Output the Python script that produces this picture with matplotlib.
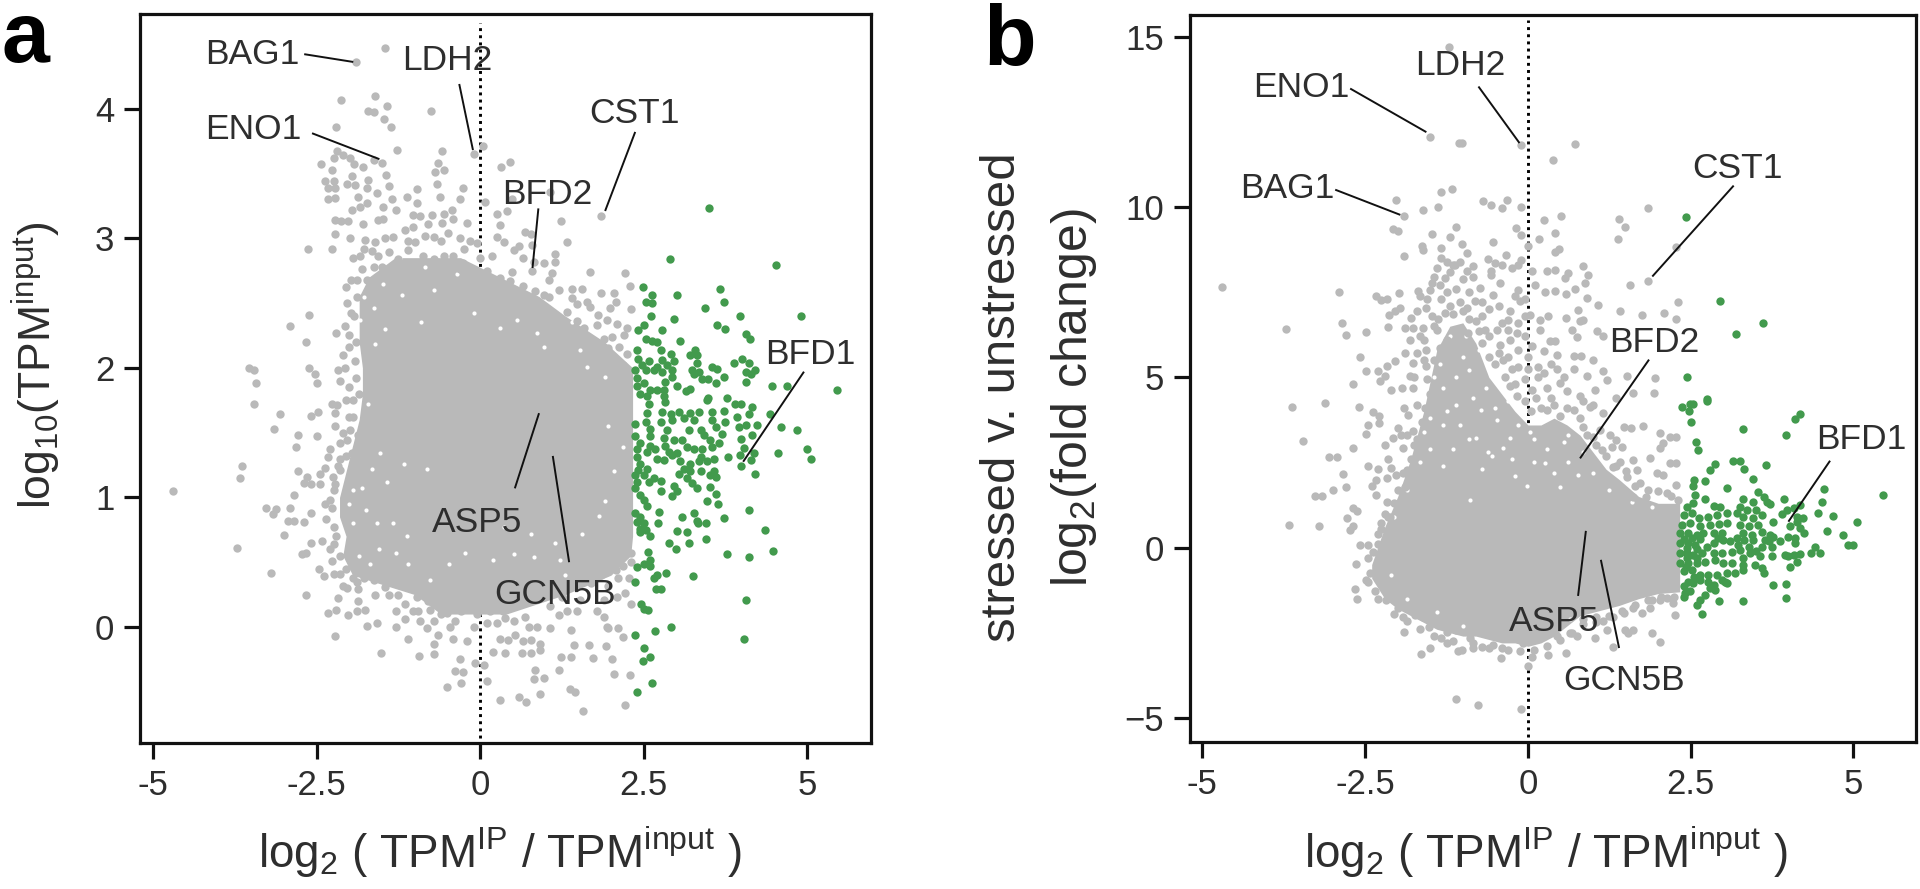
import matplotlib
matplotlib.use("Agg")
import matplotlib.pyplot as plt

plt.rcParams['font.family'] = ['Liberation Sans', 'DejaVu Sans']
plt.rcParams['mathtext.fontset'] = 'custom'
plt.rcParams['mathtext.rm'] = 'Liberation Sans'
plt.rcParams['mathtext.it'] = 'Liberation Sans'
plt.rcParams['mathtext.default'] = 'regular'

GRAY = '#B9B9B9'
GREEN = '#429A4D'
INK = '#2e2e2e'

# ---------- panel a: dense core outline (log10 TPM level, left and right edge) ----------
core_a_y = [0.1, 0.25, 0.4, 0.55, 0.7, 0.85, 1.0, 1.2, 1.4, 1.6, 1.8, 2.0, 2.2, 2.4, 2.55, 2.7, 2.85]
core_a_left = [-0.6, -1.0, -1.95, -2.1, -2.05, -2.15, -2.15, -2.05, -1.95, -1.85, -1.8, -1.8, -1.85, -1.85, -1.85, -1.7, -1.3]
core_a_right = [0.4, 1.3, 2.0, 2.3, 2.33, 2.33, 2.33, 2.33, 2.33, 2.33, 2.33, 2.33, 1.9, 1.3, 0.9, 0.3, -0.3]

# white specks left open inside the cloud of panel a
holes_a = [
 (-1.20,2.56),(-1.48,2.65),(-0.71,2.60),(-1.22,2.85),(-1.63,2.46),(-1.84,2.37),(-0.90,2.35),(-1.45,2.30),
 (-1.66,1.22),(-1.43,1.12),(-1.17,1.26),(-1.28,0.57),(-1.10,0.49),(-1.68,0.49),(-1.58,0.80),(-1.80,1.07),
 (-1.94,1.06),(-1.53,1.34),(-0.48,0.49),(-0.23,0.57),(-0.82,1.22),(-0.77,0.36),(-1.33,0.80),(-1.12,0.70),
 (-1.94,0.80),(1.81,0.86),(0.77,0.72),(1.15,0.65),(0.36,0.77),(1.56,0.72),(2.19,1.39),(1.91,0.97),(0.20,0.52),
 (0.51,0.56),(0.82,0.54),(1.22,0.52),(1.63,2.01),(0.97,2.16),(0.31,2.31),(1.91,1.93),(1.53,2.14),(0.87,2.27),
 (0.56,2.37),(-0.35,2.72),(-0.85,2.78),(-1.60,2.18),(-1.72,1.72),(-1.78,2.55),(-0.10,2.42),(-1.55,0.60),
 (-1.85,0.55),(-2.00,0.95),(-1.75,0.90),(1.30,0.40),(0.55,0.35),(2.05,1.20),(1.95,1.55),(1.40,2.35),
]

gray_a = [
 (-1.46,4.47),(-1.90,4.36),(-2.12,4.07),(-1.60,4.10),(-1.42,4.02),(-1.71,3.98),(-1.63,3.97),(-0.75,3.98),
 (-1.47,3.92),(-1.36,3.86),(-2.21,3.86),(-1.27,3.68),(-0.58,3.67),(-0.10,3.65),(-2.19,3.67),(-2.09,3.64),
 (-1.99,3.62),(-1.93,3.57),(-1.79,3.55),(-1.63,3.60),(-1.50,3.58),(-2.44,3.57),(-2.27,3.53),(-2.23,3.62),
 (-0.64,3.58),(-0.55,3.53),(-0.69,3.51),(-1.44,3.49),(-1.96,3.48),(-1.71,3.45),(-1.40,3.40),
 (-2.37,3.44),(-2.24,3.44),(-2.32,3.39),(-2.22,3.39),(-2.32,3.30),(-2.22,3.31),
 (-2.04,3.42),(-1.91,3.41),(-1.86,3.32),(-1.73,3.39),(-0.66,3.42),(-0.61,3.32),(-0.26,3.39),(-0.31,3.30),
 (-0.97,3.38),(-1.12,3.32),(-0.97,3.27),(-1.35,3.30),(-1.58,3.35),(-1.73,3.27),(-1.84,3.24),(-1.96,3.22),
 (-1.48,3.24),(-1.28,3.22),(-1.48,3.15),(-1.56,3.14),(-2.22,3.14),(-2.12,3.13),(-2.02,3.13),(-1.79,3.11),
 (-2.22,3.03),(-1.99,3.00),(-2.27,2.92),(-2.63,2.92),
 (-1.76,2.99),(-1.61,2.97),(-1.46,3.00),(-1.33,3.01),(-1.15,3.06),(-1.02,3.09),(-0.92,3.17),(-1.02,3.18),
 (-0.74,3.18),(-0.56,3.19),(-0.43,3.22),(-0.41,3.15),(-0.59,3.12),(-0.79,3.11),(-0.20,3.12),(-0.71,3.01),
 (-0.49,3.04),(-0.31,3.00),(-0.15,2.98),(-0.05,2.96),
 (-1.84,2.86),(-1.81,2.76),(-1.89,2.68),(-1.73,2.68),(-1.63,2.78),(-1.56,2.86),(-1.40,2.89),(-1.25,2.84),
 (-1.10,2.91),(-1.00,2.97),(-0.87,2.86),(-0.71,2.84),(-0.56,2.86),(-0.41,2.86),(-0.26,2.81),(-0.13,2.76),
 (-0.31,2.76),(-0.51,2.76),(-0.97,2.76),(-1.15,2.78),(-1.35,2.76),(-0.05,2.63),(-1.89,2.55),
 (-2.03,2.50),(-1.93,2.40),(-2.20,2.27),(-2.06,2.32),(-2.00,2.16),(-1.90,2.20),(-1.92,2.05),
 (-2.18,1.98),(-2.06,2.00),(-2.15,1.90),(-2.00,1.85),(-1.90,1.92),(-1.85,1.80),(-1.95,1.75),
 (-3.53,2.00),(-3.45,1.98),(-3.43,1.88),(-2.90,2.32),(-2.62,2.41),(-2.66,2.20),(-2.62,2.00),(-2.53,1.95),(-2.50,1.88),
 (-2.27,1.72),
 (-4.70,1.05),(-3.64,1.24),(-3.67,1.15),(-3.71,0.61),(-3.20,0.42),(-3.28,0.92),(-3.12,0.91),(-3.16,0.87),
 (-2.91,0.92),(-2.59,0.88),(-2.93,0.82),(-2.85,0.82),(-2.70,0.81),(-3.00,0.71),(-2.59,0.65),(-2.42,0.66),
 (-2.24,0.64),(-2.73,0.56),(-2.66,0.57),(-2.47,0.45),(-2.39,0.39),(-2.24,0.41),(-2.66,0.25),(-2.84,1.02),
 (-3.45,1.72),(-3.06,1.64),(-3.15,1.53),(-2.58,1.63),(-2.48,1.66),(-2.78,1.48),(-2.81,1.39),(-2.49,1.47),
 (-2.79,1.20),(-2.65,1.16),(-2.70,1.11),(-2.58,1.10),(-2.45,1.10),(-2.37,1.23),(-2.45,1.18),(-2.18,1.24),
 (-2.22,1.55),(-2.22,1.65),(-2.19,1.71),(-2.30,1.37),(-2.32,1.31),(-2.14,1.42),(-2.04,1.44),(-1.99,1.52),
 (-1.86,1.48),(-1.96,1.34),(-2.14,1.21),(-2.24,1.06),(-2.37,0.95),(-2.27,0.92),
 (-2.35,0.83),(-2.24,0.77),(-2.14,0.41),(-2.27,0.51),(-2.04,0.30),(-1.89,0.35),(-1.63,0.36),(-1.86,0.29),
 (-1.86,0.20),(-2.18,0.22),(-1.61,0.25),(-1.45,0.31),(-2.09,0.32),
 (-2.33,0.11),(-2.20,0.13),(-2.02,0.09),(-1.89,0.12),(-1.76,0.13),(-2.22,-0.07),(-1.73,0.01),(-1.57,0.03),
 (-1.29,0.12),(-1.03,0.12),(-1.15,0.06),(-1.28,0.00),(-1.10,-0.09),(-0.92,0.05),(-0.82,-0.01),(-0.64,-0.06),
 (-1.52,-0.20),(-0.93,-0.22),(-0.70,-0.21),(-0.70,-0.13),(-0.79,0.20),(-0.56,0.23),(-0.46,0.18),(-0.77,0.13),
 (-0.51,0.11),(-0.46,0.00),(-0.38,0.05),(-0.41,-0.09),(-0.20,-0.11),(-0.31,-0.25),(-0.08,-0.28),(-0.38,-0.34),
 (-0.26,-0.35),(-0.51,-0.46),(-0.29,-0.43),(-0.10,0.00),(-0.05,0.10),(-0.97,0.23),(-1.02,0.31),(-1.22,0.36),
 (-0.20,0.21),(-0.20,0.16),
 (0.31,-0.56),(0.59,-0.54),(0.70,-0.58),(0.92,-0.52),(1.38,-0.48),(1.45,-0.50),(1.57,-0.65),(2.21,-0.60),
 (0.84,-0.33),(0.83,-0.40),(0.98,-0.39),(1.21,-0.33),(2.04,-0.36),(2.29,-0.37),(1.24,-0.23),(1.39,-0.23),
 (1.72,-0.24),(2.02,-0.25),(0.06,-0.29),(0.10,-0.42),(0.20,-0.19),(0.38,-0.20),(0.64,-0.20),(0.77,-0.20),
 (0.92,-0.18),(1.43,-0.14),(1.67,-0.14),(1.93,-0.15),(2.18,-0.08),(2.10,-0.01),(1.96,-0.01),(1.06,-0.01),
 (1.39,-0.02),(0.31,-0.09),(0.43,-0.10),(0.54,-0.06),(0.66,-0.11),(0.77,-0.10),(0.92,-0.13),(0.74,0.00),
 (0.87,0.00),(0.69,0.08),(0.10,0.03),(0.26,0.03),(0.38,0.07),(0.51,0.05),(1.20,0.09),(1.33,0.12),(1.48,0.12),
 (1.79,0.12),(1.89,0.08),(1.94,0.00),(2.30,0.18),(2.22,0.26),(0.92,0.23),(1.07,0.16),(1.25,0.23),(1.53,0.21),
 (1.89,0.21),(2.09,0.23),(2.07,0.44),(2.19,0.47),(2.30,0.57),(2.17,0.54),(2.04,0.52),(1.79,0.44),(1.58,0.52),
 (1.40,0.43),(0.30,0.20),(0.50,0.25),(0.60,0.35),(0.15,0.30),(1.70,0.34),(1.95,0.32),
 (0.45,3.59),(0.32,3.55),(0.05,3.71),(1.06,3.36),(0.48,3.30),(0.08,3.28),(0.26,3.19),(0.41,3.21),(1.23,3.13),
 (1.85,3.17),(0.30,3.10),(0.68,3.05),(1.33,2.97),(0.26,3.01),(0.36,2.97),(0.51,2.91),(0.60,2.94),(0.78,3.03),
 (0.79,2.95),(1.15,2.88),(1.15,2.82),(0.65,2.85),(0.82,2.82),(0.97,2.81),(0.79,2.75),(0.18,2.86),(0.48,2.74),
 (1.10,2.73),(1.05,2.68),(1.68,2.74),(2.21,2.73),(0.31,2.69),(0.46,2.67),(0.66,2.63),(0.84,2.59),(0.97,2.56),
 (1.05,2.55),(1.21,2.60),(1.40,2.61),(1.56,2.61),(2.29,2.63),(2.04,2.58),(1.84,2.58),(1.40,2.54),(1.63,2.51),
 (1.48,2.49),(1.68,2.47),(1.80,2.41),(2.07,2.51),(1.99,2.46),(2.30,2.45),(1.32,2.43),(1.02,2.45),
 (1.17,2.37),(1.48,2.36),(1.94,2.37),(2.09,2.34),(2.24,2.31),(1.79,2.33),(1.58,2.31),
 (2.02,2.24),(2.12,2.16),(2.19,2.02),(2.24,2.11),
 (0.10,2.75),(0.25,2.60),(0.40,2.50),
 # ragged rim of the cloud
 (-2.20,0.70),(-2.30,0.60),(-2.15,0.55),(-2.05,0.45),(-1.95,0.38),(-1.78,0.38),(-1.55,0.40),(-1.40,0.25),
 (-1.25,0.25),(-1.15,0.18),(-0.95,0.12),(-0.70,0.05),(-0.60,0.10),(-0.30,0.12),(-2.30,0.98),(-2.22,1.10),
 (-2.25,1.16),(-2.15,1.30),(-2.05,1.32),(-2.10,1.50),(-2.00,1.62),(-1.95,1.62),(-2.05,1.75),(-2.10,2.10),
 (-2.00,2.25),(-1.98,2.42),(-2.05,2.62),(-1.98,2.68),(-1.95,2.85),(-1.78,2.92),(-1.65,2.90),(-1.50,2.78),
 (-1.10,2.98),(-0.85,3.02),(-0.60,2.98),(-0.25,2.92),(0.00,2.85),(0.05,2.72),(0.18,2.68),(0.32,2.55),
 (0.55,2.45),(0.70,2.42),(0.85,2.40),(1.05,2.30),(1.25,2.25),(1.45,2.20),(1.60,2.10),(1.75,2.05),(1.90,2.22),
 (2.05,2.05),(2.20,2.25),(1.95,2.15),(0.60,0.20),(0.85,0.30),(1.10,0.35),(1.35,0.32),(1.60,0.38),(1.85,0.40),
 (2.10,0.38),(2.28,0.38),(2.30,0.50),(0.35,0.12),(0.15,0.12),(-0.10,0.18),(-0.35,0.18),
]

green_a = [
 (3.50,3.23),(2.90,2.84),(4.52,2.79),(2.49,2.62),(3.66,2.61),(2.63,2.56),(3.01,2.56),(2.54,2.51),(2.63,2.50),
 (3.72,2.51),(3.44,2.46),(3.97,2.40),(4.91,2.40),(2.61,2.40),(2.96,2.38),(2.50,2.33),(2.41,2.29),(2.78,2.29),
 (3.62,2.33),(3.74,2.30),(4.06,2.26),(4.12,2.22),(3.06,2.21),(2.54,2.22),(2.62,2.21),(2.70,2.20),(2.39,2.14),
 (2.76,2.14),(3.29,2.14),(3.21,2.10),(3.32,2.10),(2.42,2.07),(2.91,2.11),(2.96,2.05),(2.78,2.06),(2.58,2.05),
 (2.47,2.02),(2.70,2.01),(2.86,2.02),(2.36,1.98),(2.53,1.98),(2.65,1.98),(2.78,1.97),(2.93,1.98),(3.32,2.04),
 (3.24,1.98),(3.34,1.97),(3.55,2.01),(3.62,1.99),(3.88,2.04),(4.01,2.07),(4.11,2.04),(4.06,1.97),(4.20,1.98),
 (4.14,1.95),(4.06,1.89),(4.46,1.86),(4.69,1.86),(5.46,1.83),(3.27,1.95),(3.39,1.91),(3.49,1.91),(3.60,1.88),
 (3.72,1.93),(2.40,1.92),(2.50,1.88),(2.40,1.86),(2.83,1.89),(2.93,1.93),(3.01,1.86),(2.81,1.83),(2.70,1.83),
 (2.60,1.83),(3.21,1.84),(3.14,1.82),(2.45,1.80),(2.55,1.78),(2.81,1.78),(3.49,1.77),(3.78,1.77),
 (2.58,1.72),(2.83,1.74),(3.47,1.75),(3.90,1.72),(3.98,1.72),(4.16,1.70),(4.43,1.64),(2.55,1.65),(2.78,1.66),
 (2.91,1.64),(3.04,1.66),(3.21,1.65),(3.34,1.66),(3.55,1.66),(3.73,1.67),(3.93,1.62),(4.11,1.64),(2.37,1.57),
 (2.53,1.58),(2.76,1.58),(2.93,1.60),(3.11,1.61),(3.27,1.60),(3.55,1.60),(3.75,1.58),(4.06,1.56),(4.23,1.56),
 (3.95,1.54),(4.60,1.54),(4.85,1.52),(2.60,1.53),(2.86,1.52),(3.19,1.52),(3.37,1.52),(3.60,1.54),(3.70,1.49),
 (3.98,1.45),(4.16,1.48),(2.37,1.47),(2.60,1.47),(2.81,1.46),(2.96,1.44),(3.09,1.44),(3.42,1.48),(3.52,1.44),
 (3.65,1.42),(2.45,1.42),(2.60,1.40),(2.83,1.40),(3.16,1.39),(3.27,1.37),(3.39,1.37),(3.55,1.39),(4.03,1.38),
 (2.40,1.37),(2.55,1.35),(2.68,1.37),(2.88,1.35),(3.01,1.34),(2.93,1.33),(3.37,1.31),(3.57,1.30),(3.79,1.31),
 (3.97,1.33),(4.19,1.34),(4.55,1.34),(5.00,1.37),(5.06,1.30),(4.14,1.29),(3.99,1.24),(4.20,1.18),(2.40,1.31),
 (2.70,1.30),(2.81,1.29),(3.06,1.28),(3.21,1.26),(3.34,1.28),(3.47,1.28),(2.45,1.26),(2.55,1.22),(2.42,1.21),
 (2.37,1.17),(2.50,1.17),(2.65,1.15),(2.76,1.13),(3.11,1.22),(3.21,1.20),(3.37,1.20),(3.57,1.20),(3.52,1.17),
 (3.60,1.16),(2.40,1.12),(2.58,1.12),(3.04,1.18),(3.16,1.15),(3.24,1.11),(3.32,1.07),(3.51,1.08),(3.61,1.03),
 (2.97,1.09),(3.01,1.05),(2.93,1.01),(2.77,1.05),(2.37,1.07),(2.45,1.02),(2.50,0.98),(2.55,0.93),(3.46,0.97),
 (3.64,0.95),(4.11,0.90),(3.32,0.82),(3.27,0.88),(3.73,0.84),(3.09,0.85),(2.73,0.89),(2.72,0.80),(3.33,0.80),
 (3.45,0.80),(4.36,0.75),(3.01,0.74),(3.16,0.73),(3.45,0.68),(2.88,0.65),(3.20,0.65),(2.99,0.60),(4.48,0.59),
 (3.77,0.56),(4.11,0.54),(2.56,0.58),(2.37,0.88),(2.45,0.85),(2.40,0.81),(2.50,0.80),(2.45,0.76),(2.53,0.75),
 (2.44,0.73),(2.59,0.70),(2.60,0.52),(2.60,0.47),(2.50,0.49),(2.40,0.46),(2.36,0.35),(2.84,0.42),(2.70,0.40),
 (2.65,0.38),(3.26,0.39),(2.77,0.29),(2.69,0.29),(4.07,0.21),(2.46,0.18),(2.50,0.14),(2.56,0.13),(4.04,-0.09),
 (2.91,0.00),(2.68,-0.03),(2.37,-0.06),(2.50,-0.16),(2.59,-0.23),(2.49,-0.26),(2.62,-0.43),(2.39,-0.50),
]

labels_a = ['BAG1', 'LDH2', 'ENO1', 'CST1', 'BFD2', 'BFD1', 'ASP5', 'GCN5B']
label_x_a = [-4.21, -1.19, -4.21, 1.67, 0.33, 4.36, -0.73, 0.22]
label_y_a = [4.42, 4.37, 3.84, 3.96, 3.34, 2.10, 0.81, 0.25]
leader_a = [((-2.69,4.42),(-1.94,4.36)), ((-0.32,4.19),(-0.11,3.68)), ((-2.57,3.81),(-1.54,3.61)),
            ((2.37,3.82),(1.91,3.21)), ((0.89,3.23),(0.80,2.77)), ((4.95,1.97),(4.02,1.275)),
            ((0.90,1.65),(0.53,1.07)), ((1.11,1.32),(1.36,0.50))]

# ---------- panel b ----------
core_b_x = [-2.4, -2.2, -2.0, -1.8, -1.6, -1.4, -1.2, -1.0, -0.8, -0.6, -0.4, -0.2, 0.0, 0.2, 0.4, 0.6, 0.8, 1.0, 1.2, 1.4, 1.7, 2.0, 2.33]
core_b_low = [-0.9, -1.5, -1.8, -2.0, -2.2, -2.4, -2.5, -2.6, -2.6, -2.7, -2.8, -2.8, -2.9, -2.8, -2.6, -2.3, -2.0, -1.9, -1.8, -1.7, -1.5, -1.35, -1.3]
core_b_high = [-0.5, 0.6, 1.5, 2.6, 4.0, 5.8, 6.5, 6.6, 6.0, 5.0, 4.5, 4.0, 3.6, 3.6, 3.8, 3.6, 3.3, 2.8, 2.3, 2.0, 1.5, 1.3, 1.3]

holes_b = [
 (-0.28,3.21),(-0.38,2.92),(0.26,2.47),(-0.20,2.10),(0.49,1.79),(0.77,2.13),(-0.89,1.40),(-0.79,3.21),
 (-0.48,3.75),(0.03,3.40),(0.62,3.30),(-0.61,2.82),(-1.50,2.90),(-1.30,3.60),(-1.10,4.20),(-0.90,5.20),
 (-1.30,4.70),(-1.45,5.00),(-1.00,5.60),(-1.20,6.20),(-0.85,4.40),(-0.65,4.70),(-0.50,4.10),(-0.15,3.60),
 (0.10,3.20),(0.30,2.90),(0.55,3.10),(0.40,2.20),(0.10,2.50),(-0.55,2.70),(-0.90,3.20),(-1.15,2.90),
 (-1.60,3.40),(-1.65,2.50),(-1.85,1.70),(-2.05,0.90),(1.00,2.20),(0.85,2.80),(1.25,1.70),(1.60,1.35),
 (-1.40,-1.90),(-1.10,5.00),(-1.35,5.40),(-0.75,5.80),(-0.95,6.20),(-1.05,3.60),(-0.25,2.60),(-1.30,2.40),
 (-0.72,4.05),(-0.30,4.30),(-1.50,3.80),(-1.25,4.00),(-0.70,2.30),(-0.02,1.80),(0.62,2.50),(-1.85,-1.50),
 (-2.10,-0.80),(1.90,1.20),(0.65,-2.10),(-1.00,-2.30),
]

gray_b = [
 (-4.70,7.64),(-1.51,12.07),(-1.06,11.88),(-1.91,9.75),(-2.02,10.22),(-1.34,10.44),(-1.16,10.53),(-1.61,9.92),
 (-1.38,10.00),(-2.07,9.35),(-1.99,9.30),(-1.47,9.22),(-1.19,9.11),(-1.10,9.40),(-1.63,8.85),(-1.61,8.73),
 (-1.34,8.80),(-1.91,8.57),(-1.33,8.50),(-1.25,8.40),(-1.12,8.31),(-1.40,8.21),(-1.45,7.96),(-1.48,7.77),
 (-1.28,7.92),(-2.90,7.50),(-1.98,7.49),(-1.69,7.52),(-1.65,7.40),(-1.51,7.55),(-2.33,7.38),(-2.25,7.28),
 (-2.16,7.30),(-1.96,7.05),(-2.04,6.94),(-2.13,6.84),(-1.71,6.94),(-1.57,7.04),(-3.71,6.43),(-2.85,6.60),
 (-2.79,6.25),(-2.48,6.33),(-2.15,6.47),(-1.79,6.74),(-1.89,6.45),(-1.76,6.45),(-1.61,6.45),(-1.48,6.79),
 (-1.81,6.10),(-1.71,5.71),(-2.58,5.60),(-2.68,4.81),(-2.49,5.18),(-2.30,5.18),(-2.17,5.32),(-2.04,5.47),
 (-2.20,5.03),(-2.27,4.88),(-2.10,4.64),(-1.94,4.69),(-1.76,4.69),(-1.89,5.71),(-1.76,5.42),(-1.56,5.81),
 (-1.81,5.03),(-1.56,5.32),(-1.21,14.70),
 (-3.63,4.12),(-3.11,4.24),(-2.60,4.14),(-3.45,3.14),(-3.06,2.67),(-2.94,2.67),(-2.69,2.92),(-2.84,2.16),
 (-2.80,1.79),(-3.00,1.69),(-3.27,1.52),(-3.17,1.52),(-3.67,0.65),(-3.21,0.64),(-2.68,1.15),(-2.62,1.08),
 (-2.78,0.86),(-2.68,0.64),(-2.74,0.52),(-2.38,3.99),(-2.28,3.85),(-2.29,3.65),(-2.46,3.60),(-2.49,3.34),
 (-2.07,3.21),(-1.92,2.92),(-1.86,3.31),(-1.76,3.41),(-1.84,3.89),(-2.33,1.99),(-2.17,2.04),(-2.10,2.33),
 (-2.02,2.13),(-1.86,2.28),(-2.33,1.55),(-2.17,1.35),(-1.99,1.20),(-1.89,1.79),(-2.25,0.71),(-2.12,0.91),
 (-2.04,0.62),(-2.58,0.08),(-2.46,0.08),(-2.38,-0.12),(-2.64,-0.48),(-2.20,0.23),(-2.25,-0.46),(-2.43,-0.75),
 (-2.48,-0.95),(-2.35,-1.29),(-2.66,-1.21),(-2.63,-1.52),(-2.18,-1.54),(-1.99,-1.78),(-1.92,-2.03),(-1.74,-1.98),
 (-1.61,-2.03),(-1.52,-2.32),(-1.41,-2.12),(-1.91,-2.49),(-1.25,-2.47),(-1.33,-2.66),(-1.25,-2.81),(-1.10,-2.42),
 (-1.64,-3.13),(-1.50,-2.95),(-1.07,-3.03),(-1.10,-4.44),(-0.76,-4.62),(-0.10,-4.75),
 (-0.10,11.81),(-1.02,11.88),(0.72,11.84),(0.39,11.39),(-0.69,10.19),(-0.56,10.07),(-0.40,9.97),(-0.32,10.22),
 (-0.10,9.99),(0.24,9.63),(0.51,9.75),(1.40,9.66),(1.49,9.40),(1.38,9.06),(1.84,9.96),(-0.19,9.38),(-0.10,9.19),
 (0.17,9.07),(0.41,9.24),(0.00,8.85),(-0.53,8.96),(-1.02,8.91),(-0.33,8.60),(-0.94,8.65),(0.41,8.68),(0.48,8.78),
 (2.28,8.82),(-0.61,8.47),(-0.51,8.36),(-0.40,8.29),(-0.24,8.21),(-0.10,8.45),(-0.15,8.31),(-0.84,8.26),
 (-0.94,8.11),(-0.84,7.96),(-0.56,8.11),(-0.56,8.01),(0.29,8.11),(0.41,8.16),(0.62,8.06),(0.57,7.92),(0.85,8.26),
 (0.93,8.01),(0.88,7.77),(0.06,8.11),(0.11,7.72),(1.85,7.82),(1.57,7.70),(0.26,7.51),(0.41,7.54),(0.59,7.46),
 (0.72,7.59),(0.90,7.33),(1.07,7.11),(2.31,7.22),(1.41,6.95),(1.75,6.83),(2.09,6.89),(2.28,6.72),(0.77,6.99),
 (0.59,6.74),(0.80,6.64),(0.67,6.40),(0.75,6.18),(1.06,6.35),(1.16,6.20),(0.85,6.69),(0.31,6.79),(0.18,6.69),
 (0.03,6.84),(0.18,6.40),(0.34,6.06),(0.41,6.06),(-0.74,7.62),(-0.43,7.77),(-0.15,7.57),(-0.12,7.23),(-0.53,7.43),
 (-0.81,7.23),(-0.94,7.04),(-0.28,6.94),(-0.48,6.40),(-0.66,6.40),(-0.79,6.64),(-0.30,6.69),(-0.17,6.30),
 (-0.05,6.79),(-0.92,6.30),(-0.43,5.96),(-0.28,6.11),(-0.38,5.52),
 (-0.25,5.23),(-0.15,5.81),(0.06,5.91),(0.24,5.76),(0.44,5.66),(0.70,5.62),(0.82,5.62),(1.00,5.52),(0.00,5.23),
 (0.24,5.12),(0.44,5.23),(0.70,5.23),(0.90,5.03),(1.16,5.18),(1.52,5.03),(1.95,4.98),(1.21,4.93),(1.03,4.64),
 (0.80,4.44),(0.49,4.83),(0.29,4.69),(0.06,4.64),(-0.28,4.74),(1.00,4.20),
 (-0.17,4.44),(0.13,4.39),(1.62,4.54),(1.36,4.39),(1.93,4.54),
 (-1.15,8.30),(-1.05,8.40),(-1.25,7.50),(-1.10,7.60),(-1.33,7.30),(-1.20,7.10),(-1.05,7.20),(-1.40,6.40),(-1.60,6.10),
 (0.29,4.04),(0.49,3.85),(0.70,4.04),(0.95,4.14),(0.85,3.55),(1.16,3.94),(1.11,3.45),(1.36,3.16),(1.00,3.26),
 (1.47,3.55),(1.59,3.50),(1.76,3.57),(2.03,3.36),(2.28,3.26),(2.18,3.24),(2.08,3.06),(2.03,2.92),(1.87,2.62),
 (1.62,2.57),(1.44,2.96),(1.29,2.96),(1.26,3.31),(1.13,2.87),(1.41,2.52),(1.67,2.28),(1.98,2.18),(2.18,2.47),
 (2.28,2.49),(1.72,1.89),(1.52,2.08),(1.31,2.38),(1.13,2.18),(2.13,1.59),(2.28,1.84),(1.82,1.49),(1.62,1.49),
 (2.08,2.13),
 (2.03,-1.53),(2.23,-1.63),(2.26,-1.98),(1.90,-1.53),(1.87,-1.78),(1.75,-1.93),(2.03,-2.76),(1.90,-2.50),
 (1.62,-2.42),(1.49,-2.42),(1.54,-2.52),(1.31,-2.91),(1.16,-2.17),(1.03,-2.66),(0.75,-2.61),(0.59,-3.10),
 (0.31,-3.15),(0.06,-3.20),(-0.42,-3.25),(-0.71,-2.92),(-0.53,-2.86),(-0.40,-2.95),(0.00,-3.49),(-0.12,-3.05),
 (-0.07,-2.81),(0.24,-2.61),(0.44,-2.61),(0.67,-2.52),(-0.89,-2.66),(-0.84,-2.95),(-1.02,-3.00),
 (1.62,-1.78),(1.47,-1.93),(1.21,-2.42),(2.13,-1.49),
 (0.85,-2.25),(1.05,-2.20),(1.30,-2.05),
 # ragged rim of the cloud
 (-2.45,-0.30),(-2.30,0.10),(-2.30,0.40),(-2.25,0.55),(-2.15,0.90),(-2.05,1.30),(-2.20,1.00),(-2.00,1.70),
 (-1.92,2.20),(-1.80,2.60),(-1.75,3.00),(-1.70,3.20),(-1.62,3.70),(-1.58,4.10),(-1.50,4.50),(-1.55,4.95),
 (-1.45,5.50),(-1.35,5.85),(-1.25,6.10),(-1.38,6.70),(-1.28,6.90),(-1.15,6.85),(-1.00,6.95),(-0.90,6.70),
 (-0.75,6.35),(-0.70,6.00),(-0.60,5.60),(-0.50,5.40),(-0.35,5.00),(-0.20,4.80),(-0.05,4.30),(0.05,4.00),
 (0.20,4.10),(0.40,4.20),(0.60,4.10),(0.80,3.80),(0.90,3.30),(1.05,3.00),(1.20,2.70),(1.35,2.40),(1.50,2.25),
 (1.65,1.80),(1.85,1.70),(2.00,1.65),(2.20,1.50),(2.30,1.40),(-2.45,-1.00),(-2.30,-1.50),(-2.05,-1.95),
 (-1.85,-2.15),(-1.65,-2.40),(-1.45,-2.60),(-1.15,-2.75),(-0.85,-2.80),(-0.60,-2.95),(-0.30,-3.00),(0.10,-3.00),
 (0.30,-2.90),(0.50,-2.70),(0.65,-2.50),(0.85,-2.10),(1.05,-2.05),(1.25,-2.00),(1.45,-1.85),(1.65,-1.70),
 (1.85,-1.55),(2.05,-1.45),(2.25,-1.45),
 (-0.90,7.50),(-0.70,7.20),(-0.60,7.00),(-0.45,7.10),(-0.20,7.40),(-0.05,7.30),(-0.70,6.80),(-0.40,6.60),
 (-0.15,6.60),(-0.60,6.20),(-0.30,6.40),(-0.05,6.20),(-0.45,5.70),(-0.30,5.60),(-0.15,5.30),(0.00,5.60),
 (0.15,5.30),(0.35,5.40),(0.55,5.00),(0.15,5.00),(-0.05,4.95),(0.35,4.40),(0.60,4.60),(0.85,4.30),
 (-1.00,7.90),(-1.20,8.10),(-1.35,7.70),(-1.55,7.30),(-1.45,6.50),(-1.65,6.20),(-1.60,5.50),(-1.75,5.00),
 (-1.70,4.20),(-1.90,4.10),(-2.00,3.50),(-1.95,3.30),(-2.20,3.00),(-2.15,2.60),(-2.30,2.30),(-2.40,1.80),(-2.45,2.40),
]

green_b = [
 (2.42,9.70),(2.95,7.25),(3.20,6.27),(3.61,6.59),(2.44,5.00),(2.75,4.37),(2.36,4.14),(2.49,4.22),(2.53,4.22),
 (2.48,4.00),(2.50,3.70),(2.75,4.29),(4.18,3.92),(4.10,3.77),(3.31,3.48),(3.97,3.32),(2.58,3.11),(2.61,2.87),
 (2.87,2.46),(2.79,2.28),(3.15,2.55),(3.26,2.55),(3.32,2.31),(3.66,2.43),(3.45,2.00),(2.55,1.98),(2.53,1.81),
 (2.72,1.95),(3.05,1.75),(4.54,1.73),(5.46,1.53),(4.52,1.34),(4.46,1.01),(4.68,0.94),(5.05,0.75),(4.60,0.50),
 (4.84,0.37),(4.91,0.08),(5.00,0.08),(3.54,1.64),(3.62,1.49),(3.67,1.35),(3.72,1.28),(3.93,1.42),(4.18,1.25),
 (4.08,1.15),(3.98,1.10),(3.90,0.99),(4.13,0.91),(4.22,0.86),(3.77,0.76),(4.02,0.62),(4.13,0.76),(4.18,0.57),
 (4.24,0.43),(4.00,0.32),(4.10,0.27),(3.87,0.18),(4.10,0.13),(4.41,0.03),(4.48,-0.17),(4.34,-0.17),(3.95,-0.21),
 (4.08,-0.21),(4.18,-0.19),(4.13,-0.43),(4.03,-0.56),(4.00,-0.26),(3.76,-1.10),(3.97,-1.08),(3.96,-1.49),
 (3.31,-1.57),(2.68,-1.95),(2.59,-1.68),(2.65,-1.53),(2.72,-1.39),(2.93,-1.57),(2.87,-1.24),(3.03,-1.00),
 (2.57,1.55),(2.72,1.44),(3.31,1.44),(3.46,1.35),(2.44,1.20),(2.54,1.30),(2.85,1.22),(2.95,1.20),(3.26,1.20),
 (3.36,1.10),(3.51,1.10),(3.59,0.96),(2.39,0.96),(2.52,1.01),(2.62,0.86),(2.77,0.91),(2.90,0.96),(3.05,1.01),
 (3.21,1.01),(3.31,0.91),(3.46,0.86),(2.36,0.67),(2.49,0.71),(2.64,0.64),(2.80,0.67),(2.93,0.70),(3.05,0.71),
 (3.26,0.67),(3.39,0.62),(3.54,0.67),(3.59,0.47),(3.72,0.37),(2.34,0.42),(2.46,0.42),(2.59,0.37),(2.69,0.42),
 (2.85,0.42),(2.98,0.42),(3.31,0.42),(3.44,0.37),(3.21,0.27),(3.10,0.18),(3.46,0.23),(3.77,0.32),(3.64,0.23),
 (2.34,0.13),(2.46,0.13),(2.57,0.08),(2.85,0.13),(3.00,0.23),(3.23,0.08),(3.39,0.03),(3.59,0.03),(3.75,0.03),
 (3.70,0.18),(2.34,-0.17),(2.44,-0.17),(2.54,-0.21),(2.67,-0.17),(2.85,-0.15),(2.98,-0.17),(3.13,-0.12),
 (3.26,-0.07),(3.41,-0.17),(3.57,-0.26),(3.75,-0.26),(2.34,-0.46),(2.46,-0.46),(2.59,-0.46),(2.72,-0.41),
 (2.87,-0.36),(3.00,-0.46),(3.13,-0.46),(3.31,-0.51),(3.49,-0.51),(3.59,-0.61),(2.39,-0.70),(2.52,-0.66),
 (2.64,-0.80),(2.77,-0.80),(2.90,-0.80),(3.05,-0.75),(3.18,-0.75),(3.31,-0.66),(3.62,-0.75),(2.39,-1.14),
 (2.46,-1.00),(2.54,-1.05),(2.64,-0.95),(2.77,-1.00),(2.85,-1.09),(2.98,-0.95),(3.05,-1.05),(2.41,-1.34),
 (2.49,-1.29),(2.39,-1.44),(2.80,-1.20),
 (2.40,0.25),(2.52,0.28),(2.65,0.25),(2.45,0.00),(2.60,-0.05),(2.75,0.02),(2.45,-0.32),(2.60,-0.32),(2.42,-0.58),
 (2.55,-0.85),(2.92,0.28),(3.32,0.22),(3.50,-0.10),(3.30,-0.30),
]

labels_b = ['ENO1', 'BAG1', 'LDH2', 'CST1', 'BFD2', 'BFD1', 'ASP5', 'GCN5B']
label_x_b = [-4.22, -4.42, -1.73, 2.52, 1.24, 4.43, -0.29, 0.55]
label_y_b = [13.50, 10.54, 14.15, 11.13, 6.01, 3.16, -2.16, -3.91]
leader_b = [((-2.73,13.48),(-1.56,12.20)), ((-2.96,10.51),(-1.96,9.77)), ((-0.76,13.54),(-0.13,11.88)),
            ((3.16,10.63),(1.91,7.96)), ((1.86,5.52),(0.80,2.62)), ((4.64,2.55),(4.00,0.76)),
            ((0.89,0.49),(0.77,-1.42)), ((1.12,-0.36),(1.40,-2.95))]

x_ticks = [-5, -2.5, 0, 2.5, 5]
x_tick_labels = ['-5', '-2.5', '0', '2.5', '5']
y_ticks_a = [0, 1, 2, 3, 4]
y_ticks_b = [-5, 0, 5, 10, 15]

W, H = 1920, 889
fig = plt.figure(figsize=(W / 100, H / 100), dpi=100)
ax_a = fig.add_axes([140 / W, 1 - 743 / H, 730.7 / W, 729 / H])
ax_b = fig.add_axes([1190 / W, 1 - 742 / H, 726 / W, 727 / H])


def draw(ax, gray, green, holes, labels, lx, ly, leaders, vspan):
    ax.axvline(0, ymin=vspan[0], ymax=vspan[1], color='black', lw=2.1, linestyle=(0, (1, 1.45)), zorder=1)
    ax.scatter(*zip(*holes), s=9, color='white', linewidths=0, zorder=2.5)
    ax.scatter(*zip(*gray), s=36, color=GRAY, linewidths=0, zorder=3)
    ax.scatter(*zip(*green), s=36, color=GREEN, linewidths=0, zorder=4)
    for (p, q) in leaders:
        ax.plot([p[0], q[0]], [p[1], q[1]], color='#111111', lw=1.4, zorder=5, solid_capstyle='butt')
    for t, x, y in zip(labels, lx, ly):
        ax.text(x, y, t, fontsize=25.5, color=INK, ha='left', va='center', zorder=6)
    for s in ax.spines.values():
        s.set_linewidth(2.3)
        s.set_color('#111111')
    ax.tick_params(length=11.5, width=2.3, color='#111111', labelsize=25, labelcolor=INK, pad=7)
    ax.set_xticks(x_ticks)
    ax.set_xticklabels(x_tick_labels)


ax_a.fill_betweenx(core_a_y, core_a_left, core_a_right, color=GRAY, linewidth=0, zorder=2)
draw(ax_a, gray_a, green_a, holes_a, labels_a, label_x_a, label_y_a, leader_a, (0.007, 0.988))
ax_a.set_xlim(-5.2, 5.97)
ax_a.set_ylim(-0.895, 4.73)
ax_a.set_yticks(y_ticks_a)

ax_b.fill_between(core_b_x, core_b_low, core_b_high, color=GRAY, linewidth=0, zorder=2)
draw(ax_b, gray_b, green_b, holes_b, labels_b, label_x_b, label_y_b, leader_b, (0.007, 0.993))
ax_b.set_xlim(-5.19, 5.96)
ax_b.set_ylim(-5.71, 15.64)
ax_b.set_yticks(y_ticks_b)

xlab = r'log$_{2}$ ( TPM$^{IP}$ / TPM$^{input}$ )'
fig.text(500 / W, 1 - 868 / H, xlab, fontsize=33, color=INK, ha='center', va='baseline')
fig.text(1546 / W, 1 - 868 / H, xlab, fontsize=33, color=INK, ha='center', va='baseline')
fig.text(36 / W, 1 - 365 / H, r'log$_{10}$(TPM$^{input}$)', fontsize=32, color=INK, rotation=90, ha='center', va='center')
fig.text(1003 / W, 1 - 397 / H, 'stressed v. unstressed', fontsize=35.5, color=INK, rotation=90, ha='center', va='center')
fig.text(1074 / W, 1 - 398 / H, r'log$_{2}$(fold change)', fontsize=36, color=INK, rotation=90, ha='center', va='center')
fig.text(1 / W, 1 - 62 / H, 'a', fontsize=62, fontweight='bold', color='black', ha='left', va='baseline')
fig.text(983 / W, 1 - 65 / H, 'b', fontsize=62, fontweight='bold', color='black', ha='left', va='baseline')

fig.savefig('out.png', dpi=100)
